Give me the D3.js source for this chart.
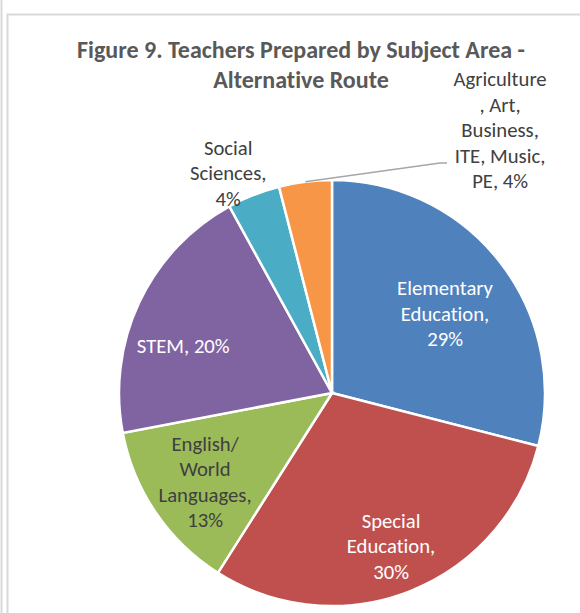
<!DOCTYPE html>
<html>
<head>
<meta charset="utf-8">
<script src="https://cdn.jsdelivr.net/npm/d3@7"></script>
<style>
  body { margin: 0; background: #fff; }
  svg text { font-family: Carlito, Lato, sans-serif; font-variant-ligatures: none; }
</style>
</head>
<body>
<svg id="chart"></svg>
<script>
// data
const categories = [
  ["Elementary", "Education,"],
  ["Special", "Education,"],
  ["English/", "World", "Languages,"],
  ["STEM,"],
  ["Social", "Sciences,"],
  ["Agriculture", ", Art,", "Business,", "ITE, Music,", "PE,"]
];
const values = [29, 30, 13, 20, 4, 4];
const colors = ["#4F81BD", "#C0504D", "#9BBB59", "#8064A2", "#4BACC6", "#F79646"];
const labelColors = ["#fff", "#fff", "#404040", "#fff", "#404040", "#404040"];
const titleLines = ["Figure 9. Teachers Prepared by Subject Area -", "Alternative Route"];

// label placement (angle in degrees from 12 o'clock, distance in px)
const labelPlace = [
  { a: 55.0, d: 138 },
  { a: 158.9, d: 164 },
  { a: 235.0, d: 155 },
  { a: 287.5, d: 156 },
  { a: 334.7, d: 243 },
  { a: 32.6, d: 312 }
];

const W = 580, H = 613;
const cx = 332, cy = 393, R = 213;

const svg = d3.select("#chart").attr("width", W).attr("height", H);

// chart frame
svg.append("line").attr("x1", 1.5).attr("x2", 1.5).attr("y1", 0).attr("y2", H)
   .attr("stroke", "#d9d9d9").attr("stroke-width", 2);
svg.append("rect").attr("x", 7.5).attr("y", 14.5).attr("width", W).attr("height", H)
   .attr("fill", "#fff").attr("stroke", "#d9d9d9").attr("stroke-width", 2);

// fit a font size so a string gets the measured width
function fitSize(text, weight, target) {
  const t = svg.append("text").attr("font-size", 100).attr("font-weight", weight).text(text);
  const w = t.node().getComputedTextLength();
  t.remove();
  return 100 * target / w;
}
const titleSize = fitSize(titleLines[0], "bold", 448);
const labelSize = fitSize("Elementary", "normal", 96);
const lineH = 25.5;

// title
svg.append("g").selectAll("text")
  .data(titleLines)
  .enter().append("text")
  .attr("x", 301)
  .attr("y", (d, i) => 58 + i * 30)
  .attr("text-anchor", "middle")
  .attr("font-weight", "bold")
  .attr("font-size", titleSize)
  .attr("fill", "#595959")
  .text(d => d);

const pie = d3.pie().sort(null).value(d => d);
const arcs = pie(values);
const arc = d3.arc().innerRadius(0).outerRadius(R);

const g = svg.append("g").attr("transform", `translate(${cx},${cy})`);

g.selectAll(".slice")
  .data(arcs)
  .enter().append("path")
  .attr("class", "slice")
  .attr("d", arc)
  .attr("fill", (d, i) => colors[i])
  .attr("stroke", "#fff")
  .attr("stroke-width", 2.5);

// leader line for the small orange slice
const agri = arcs[5];
const mid = (agri.startAngle + agri.endAngle) / 2;
const p0 = d3.pointRadial(mid, R);
g.append("polyline")
  .attr("points", [p0, [108, -230], [115, -230]].map(p => p.join(",")).join(" "))
  .attr("fill", "none")
  .attr("stroke", "#a6a6a6")
  .attr("stroke-width", 1.5);

// labels
arcs.forEach((d, i) => {
  const lines = categories[i].slice();
  const pct = d.data + "%";
  if (lines.length === 1 || i === 5) lines[lines.length - 1] += " " + pct;
  else lines.push(pct);
  const [lx, ly] = d3.pointRadial(labelPlace[i].a * Math.PI / 180, labelPlace[i].d);
  const y0 = ly - (lines.length - 1) * lineH / 2 + labelSize * 0.34;
  g.append("g").selectAll("text")
    .data(lines)
    .enter().append("text")
    .attr("x", lx)
    .attr("y", (t, j) => y0 + j * lineH)
    .attr("text-anchor", "middle")
    .attr("font-size", labelSize)
    .attr("fill", labelColors[i])
    .text(t => t);
});
</script>
</body>
</html>
